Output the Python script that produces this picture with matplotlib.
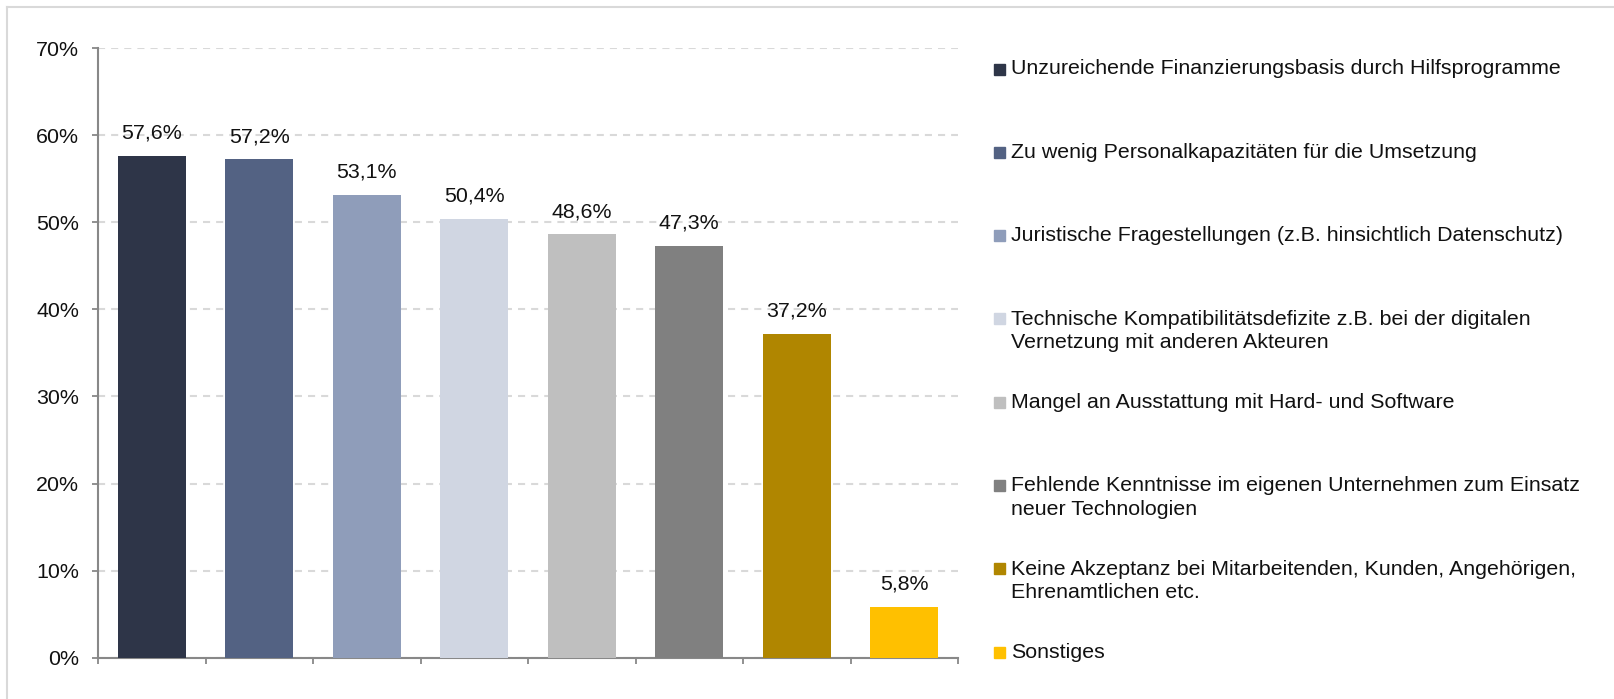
import matplotlib.pyplot as plt
from matplotlib.patches import Rectangle
from matplotlib.lines import Line2D

plt.rcParams['font.family'] = ['Liberation Sans', 'DejaVu Sans']

labels = [
    'Unzureichende Finanzierungsbasis durch Hilfsprogramme',
    'Zu wenig Personalkapazitäten für die Umsetzung',
    'Juristische Fragestellungen (z.B. hinsichtlich Datenschutz)',
    'Technische Kompatibilitätsdefizite z.B. bei der digitalen\nVernetzung mit anderen Akteuren',
    'Mangel an Ausstattung mit Hard- und Software',
    'Fehlende Kenntnisse im eigenen Unternehmen zum Einsatz\nneuer Technologien',
    'Keine Akzeptanz bei Mitarbeitenden, Kunden, Angehörigen,\nEhrenamtlichen etc.',
    'Sonstiges',
]
values = [57.6, 57.2, 53.1, 50.4, 48.6, 47.3, 37.2, 5.8]
colors = ['#2E3548', '#536283', '#8F9DBA', '#D0D6E2',
          '#BFBFBF', '#808080', '#B08600', '#FFC000']
yticks = [0, 10, 20, 30, 40, 50, 60, 70]

W, H = 1614, 699
fig = plt.figure(figsize=(W / 100, H / 100), dpi=100)
ax = fig.add_axes([98 / W, 1 - 657.7 / H, 860 / W, (657.7 - 48) / H])

x = range(len(values))
bars = ax.bar(x, values, width=0.63, color=colors, zorder=3)
for b, v in zip(bars, values):
    ax.annotate(f'{v:.1f}%'.replace('.', ','), (b.get_x() + b.get_width() / 2, v),
                xytext=(0, 12.5), textcoords='offset points',
                ha='center', va='baseline', fontsize=15.4, color='#111111')

ax.set_xlim(-0.5, len(values) - 0.5)
ax.set_ylim(0, 70)
ax.set_yticks(yticks)
ax.set_yticklabels([f'{t}%' for t in yticks])
ax.set_xticks([i - 0.5 for i in range(len(values) + 1)])
ax.set_xticklabels([])
ax.tick_params(axis='both', direction='out', length=4.5, width=1.3,
               color='#888888', labelsize=15.4, labelcolor='#111111')
ax.tick_params(axis='y', pad=9)
ax.yaxis.grid(True, color='#D9D9D9', linewidth=1.5, linestyle=(0, (3.4, 2.9)), zorder=0)
for s in ['top', 'right']:
    ax.spines[s].set_visible(False)
for s in ['left', 'bottom']:
    ax.spines[s].set_color('#888888')
    ax.spines[s].set_linewidth(1.5)

# legend drawn by hand to keep the wide, even spacing
for i, (lab, c) in enumerate(zip(labels, colors)):
    yc = 69 + i * 83.3
    fig.patches.append(Rectangle((994 / W, 1 - (yc + 5.5) / H), 11 / W, 11 / H,
                                 transform=fig.transFigure, color=c))
    nl = lab.count('\n')
    fig.text(1011 / W, 1 - (yc + nl * 12) / H, lab, ha='left', va='center',
             fontsize=15.4, color='#111111', linespacing=1.28)

# outer frame (only top and left visible)
fig.lines.append(Line2D([7 / W, 7 / W], [0, 1 - 7 / H], transform=fig.transFigure,
                        color='#D9D9D9', linewidth=1.5))
fig.lines.append(Line2D([7 / W, 1], [1 - 7 / H, 1 - 7 / H], transform=fig.transFigure,
                        color='#D9D9D9', linewidth=1.5))

fig.savefig('out.png', dpi=100)
